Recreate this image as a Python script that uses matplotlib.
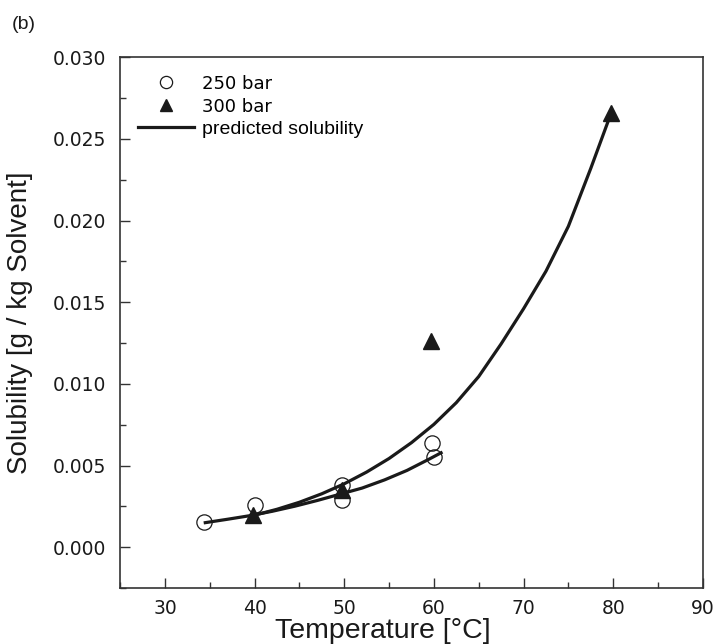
import matplotlib.pyplot as plt
from matplotlib.ticker import MultipleLocator

plt.rcParams['font.family'] = ['Liberation Sans', 'DejaVu Sans']

# measured points
t_250 = [34.4, 40.1, 49.7, 49.8, 59.8, 60.0]
s_250 = [0.00153, 0.00257, 0.00288, 0.00380, 0.00636, 0.00550]
t_300 = [39.8, 49.7, 59.7, 79.7]
s_300 = [0.00196, 0.00350, 0.01263, 0.02660]

# predicted solubility curves
t_fit_300 = [40.0, 42.5, 45.0, 47.5, 50.0, 52.5, 55.0, 57.5, 60.0, 62.5,
             65.0, 67.5, 70.0, 72.5, 75.0, 77.5, 79.6]
s_fit_300 = [0.00196, 0.00232, 0.00275, 0.00327, 0.00388, 0.00460, 0.00543,
             0.00640, 0.00752, 0.00885, 0.01045, 0.01245, 0.01460, 0.01690,
             0.01965, 0.02320, 0.02633]
t_fit_250 = [34.5, 37.0, 39.5, 42.0, 44.5, 47.0, 49.5, 52.0, 54.5, 57.0,
             59.5, 60.8]
s_fit_250 = [0.00150, 0.00171, 0.00193, 0.00220, 0.00251, 0.00286, 0.00324,
             0.00362, 0.00412, 0.00470, 0.00540, 0.00578]

ink = '#1a1a1a'

fig = plt.figure(figsize=(7.15, 6.44), dpi=100)
ax = fig.add_axes([0.168, 0.087, 0.815, 0.824])

ax.plot(t_fit_300, s_fit_300, color=ink, lw=2.3, zorder=2,
        solid_joinstyle='round')
ax.plot(t_fit_250, s_fit_250, color=ink, lw=2.3, zorder=2,
        solid_joinstyle='round', label='predicted solubility')
ax.plot(t_250, s_250, 'o', ms=11, mfc='none', mec=ink, mew=0.9,
        label='250 bar', zorder=3)
ax.plot(t_300, s_300, '^', ms=11, color=ink, label='300 bar', zorder=3)

ax.set_xlim(25, 90)
ax.set_ylim(-0.0025, 0.030)
ax.xaxis.set_minor_locator(MultipleLocator(5))
ax.yaxis.set_minor_locator(MultipleLocator(0.0025))
ax.set_xticks([30, 40, 50, 60, 70, 80, 90])
ax.set_yticks([0.000, 0.005, 0.010, 0.015, 0.020, 0.025, 0.030])
ax.set_yticklabels(['0.000', '0.005', '0.010', '0.015', '0.020', '0.025', '0.030'])
ax.tick_params(which='both', direction='in', top=False, right=False,
               labelsize=13.5, color='#333333', width=1, labelcolor=ink)
ax.tick_params(axis='y', which='major', length=7, pad=10)
ax.tick_params(axis='x', which='major', length=7, pad=8)
ax.tick_params(which='minor', length=4)
for lab in ax.get_xticklabels() + ax.get_yticklabels():
    lab.set_fontfamily('DejaVu Sans')
for sp in ax.spines.values():
    sp.set_color('#333333')
    sp.set_linewidth(1.2)

ax.set_xlabel('Temperature [°C]', fontsize=20.5, color=ink)
ax.xaxis.set_label_coords(0.451, -0.056)
ax.set_ylabel('Solubility [g / kg Solvent]', fontsize=20, color=ink)
ax.yaxis.set_label_coords(-0.150, 0.5)

h, l = ax.get_legend_handles_labels()
order = [1, 2, 0]
leg = ax.legend([h[i] for i in order], [l[i] for i in order], loc='upper left',
                frameon=False, fontsize=14, handlelength=2.9, handletextpad=0.4,
                labelspacing=0.25, markerscale=0.8, borderaxespad=0.5)
for txt in leg.get_texts()[:2]:
    txt.set_fontfamily('DejaVu Sans')
    txt.set_fontsize(13)

fig.text(0.017, 0.955, '(b)', fontsize=14, color=ink)

fig.savefig('out.png', dpi=100)
